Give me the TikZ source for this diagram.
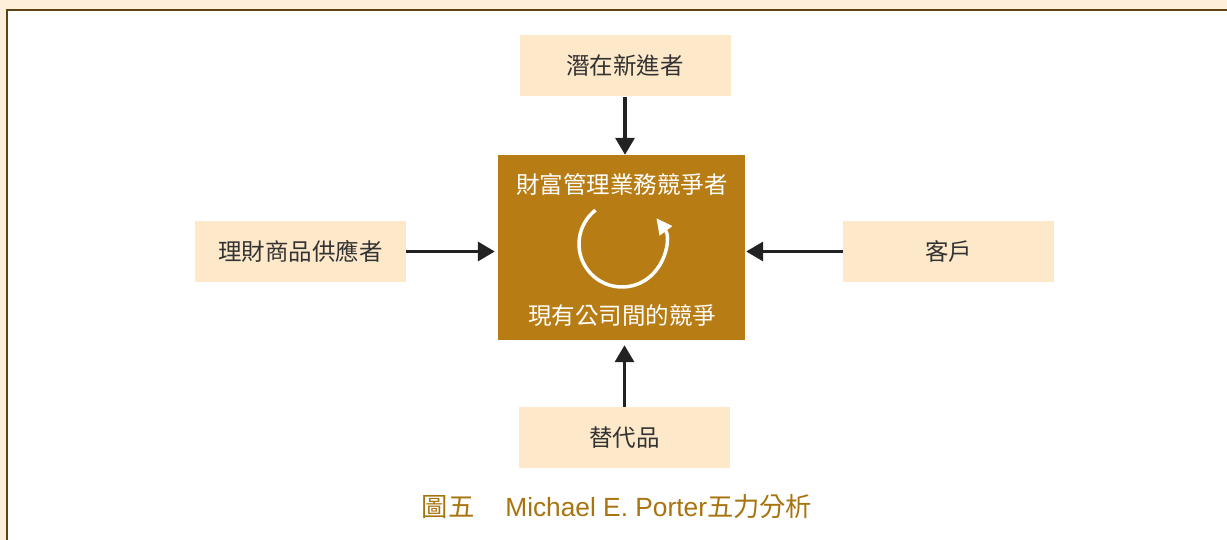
\documentclass[tikz,border=0pt]{standalone}
\usepackage{fontspec}
\setmainfont{Liberation Sans}
\newfontfamily\cjk{Noto Sans CJK TC}
\usetikzlibrary{arrows.meta,calc}
\definecolor{bgcream}{HTML}{FDEFD9}
\definecolor{boxcream}{HTML}{FDE9CA}
\definecolor{gold}{HTML}{B77C14}
\definecolor{capcol}{HTML}{A87410}
\definecolor{framecol}{HTML}{5E4312}
\definecolor{txt}{HTML}{333333}
\definecolor{arrcol}{HTML}{222222}
\tikzset{
  side/.style={fill=boxcream, draw=none, minimum width=211pt, minimum height=61pt, inner sep=0pt,
    text=txt, font=\cjk\fontsize{23.5}{28}\selectfont},
  core/.style={fill=gold, draw=none, minimum width=247pt, minimum height=185pt, inner sep=0pt},
  coretext/.style={text=white, font=\cjk\fontsize{23.5}{28}\selectfont, inner sep=0pt},
  arr/.style={draw=arrcol, line width=3.5pt, -{Triangle[length=17pt,width=19pt]}},
}
\begin{document}
\begin{tikzpicture}[x=1pt,y=-1pt]
\useasboundingbox (0,0) rectangle (1227,540);
\begin{scope}
\clip (0,0) rectangle (1227,540);
\fill[bgcream] (0,0) rectangle (1227,540);
\draw[framecol, fill=white, line width=2.5pt] (7,10) rectangle (1260,580);
\end{scope}
\node[side] (entr) at (625,66) {潛在新進者};
\node[side] (supp) at (300.5,251.5) {理財商品供應者};
\node[side] (cust) at (948.5,251.5) {客戶};
\node[side] (subs) at (624.5,437.5) {替代品};
\node[core] (rival) at (621.5,247.5) {};
\node[coretext] (rtop) at (622,185) {財富管理業務競爭者};
\node[coretext] (rbot) at (622,316) {現有公司間的競爭};
\coordinate (cc) at (622,244);
\draw[white, line width=3.5pt, -{Triangle[length=16pt,width=15pt]}]
  ($(cc)+(-128:43)$) arc[start angle=-128, end angle=-397, radius=43];
\draw[arr] (entr.south) -- (entr.south |- rival.north);
\draw[arr, shorten >=3pt] (supp.east) -- (supp.east -| rival.west);
\draw[arr, shorten >=1pt] (cust.west) -- (cust.west -| rival.east);
\draw[arr, shorten >=5pt] (subs.north) -- (subs.north |- rival.south);
\node[text=capcol, font=\fontsize{26.3}{30}\selectfont, inner sep=0pt] (cap) at (617,507)
  {{\cjk 圖五}\hspace{31pt}Michael E. Porter{\cjk 五力分析}};
\end{tikzpicture}
\end{document}
